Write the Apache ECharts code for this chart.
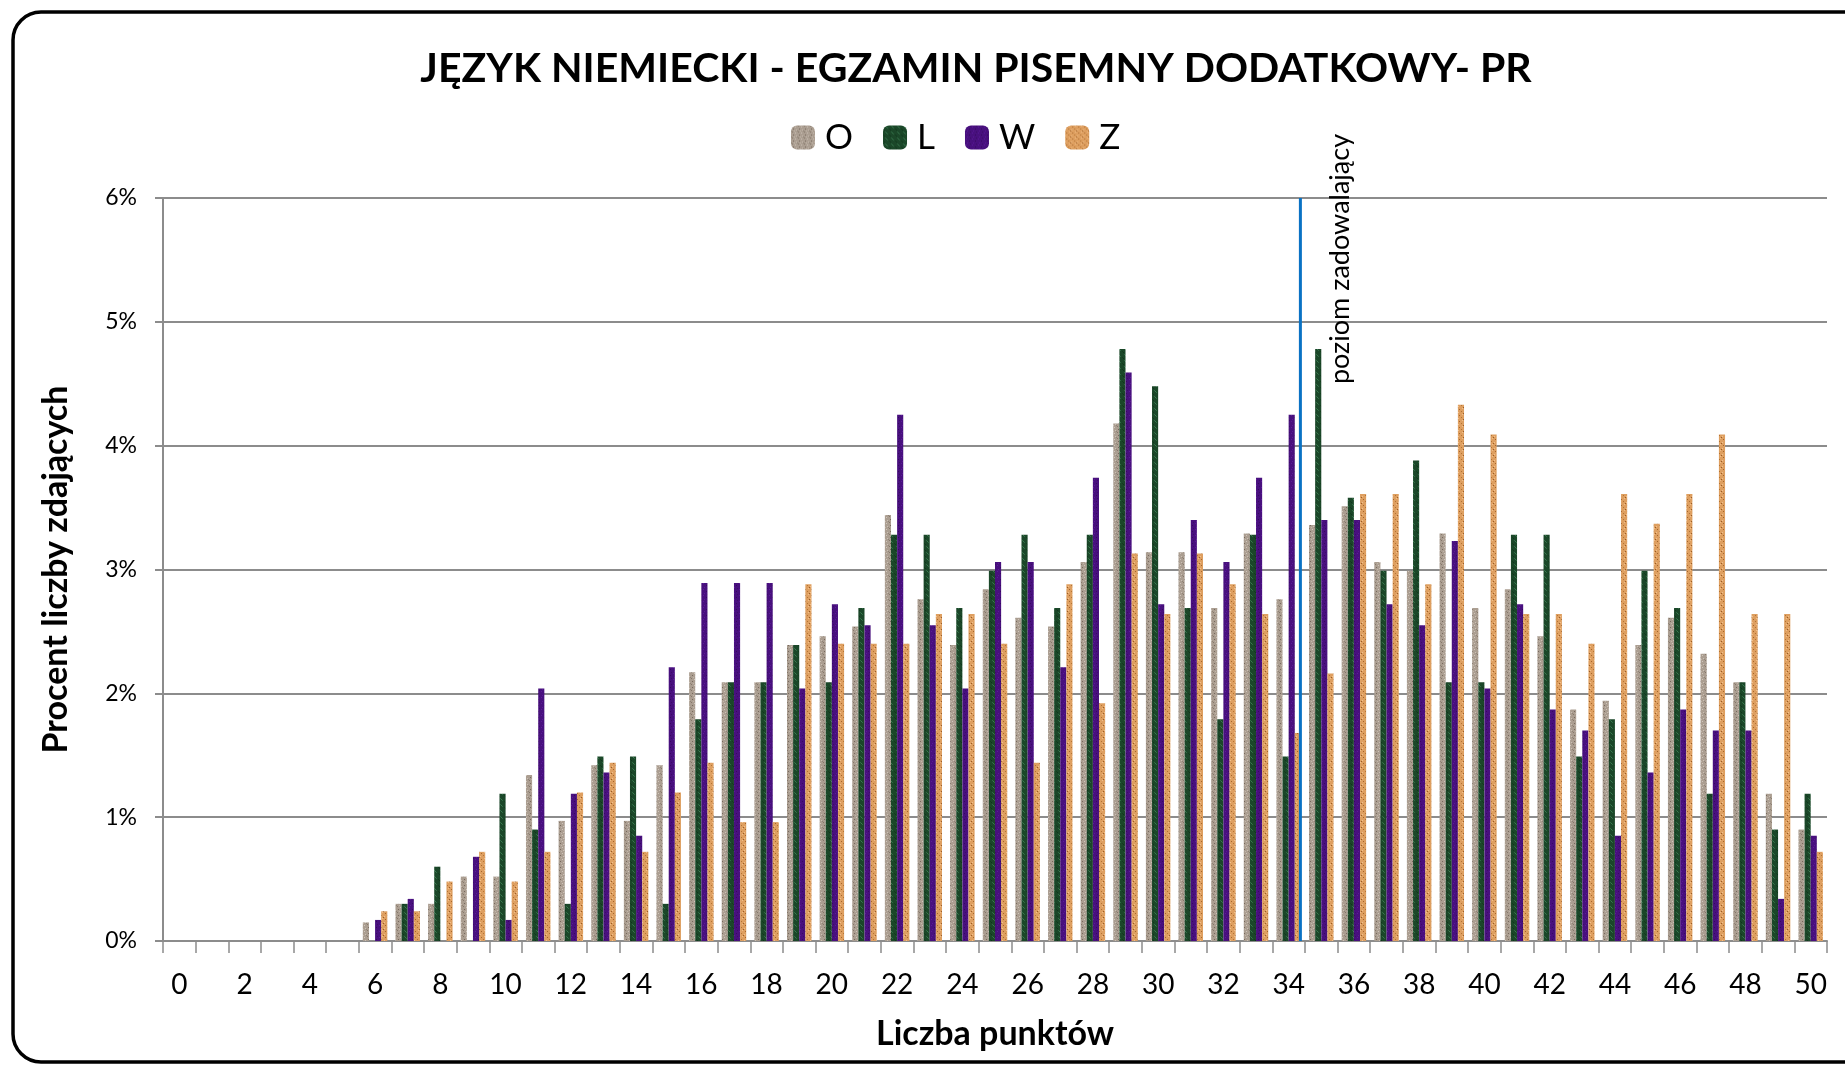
<!DOCTYPE html>
<html>
<head>
<meta charset="utf-8">
<title>Język niemiecki - egzamin pisemny dodatkowy - PR</title>
<script src="https://cdn.jsdelivr.net/npm/echarts@6/dist/echarts.min.js"></script>
<style>
  html, body { margin: 0; padding: 0; background: #fff; }
  #main { width: 1845px; height: 1066px; }
</style>
</head>
<body>
<div id="main"></div>
<script>
// liczba punktow (kategorie osi X)
var punkty = ['0','1','2','3','4','5','6','7','8','9','10','11','12','13','14','15','16','17','18','19','20',
  '21','22','23','24','25','26','27','28','29','30','31','32','33','34','35','36','37','38','39','40',
  '41','42','43','44','45','46','47','48','49','50'];

var nazwySerii = ['O', 'L', 'W', 'Z'];

// procent liczby zdajacych
var wynikO = [0,0,0,0,0,0, 0.15,0.30,0.30,0.52,0.52,1.34,0.97,1.42,0.97,1.42,2.17,2.09,2.09,2.39,2.46,
  2.54,3.44,2.76,2.39,2.84,2.61,2.54,3.06,4.18,3.14,3.14,2.69,3.29,2.76,3.36,3.51,3.06,2.99,3.29,2.69,
  2.84,2.46,1.87,1.94,2.39,2.61,2.32,2.09,1.19,0.90];
var wynikL = [0,0,0,0,0,0, 0,0.30,0.60,0,1.19,0.90,0.30,1.49,1.49,0.30,1.79,2.09,2.09,2.39,2.09,
  2.69,3.28,3.28,2.69,2.99,3.28,2.69,3.28,4.78,4.48,2.69,1.79,3.28,1.49,4.78,3.58,2.99,3.88,2.09,2.09,
  3.28,3.28,1.49,1.79,2.99,2.69,1.19,2.09,0.90,1.19];
var wynikW = [0,0,0,0,0,0, 0.17,0.34,0,0.68,0.17,2.04,1.19,1.36,0.85,2.21,2.89,2.89,2.89,2.04,2.72,
  2.55,4.25,2.55,2.04,3.06,3.06,2.21,3.74,4.59,2.72,3.40,3.06,3.74,4.25,3.40,3.40,2.72,2.55,3.23,2.04,
  2.72,1.87,1.70,0.85,1.36,1.87,1.70,1.70,0.34,0.85];
var wynikZ = [0,0,0,0,0,0, 0.24,0.24,0.48,0.72,0.48,0.72,1.20,1.44,0.72,1.20,1.44,0.96,0.96,2.88,2.40,
  2.40,2.40,2.64,2.64,2.40,1.44,2.88,1.92,3.13,2.64,3.13,2.88,2.64,1.68,2.16,3.61,3.61,2.88,4.33,4.09,
  2.64,2.64,2.40,3.61,3.37,3.61,4.09,2.64,2.64,0.72];

// poziom zadowalajacy - polozenie linii na osi punktow
var progZadowalajacy = 34.36;

var czcionka = 'Lato, "Noto Sans", sans-serif';

// faktury slupkow (jak w Excelu)
function faktura(baza, kropki) {
  var c = document.createElement('canvas');
  c.width = 6; c.height = 6;
  var g = c.getContext('2d');
  g.fillStyle = baza;
  g.fillRect(0, 0, 6, 6);
  kropki.forEach(function (k) {
    g.fillStyle = k[2];
    g.fillRect(k[0], k[1], 1, 1);
  });
  return { image: c, repeat: 'repeat' };
}
var kolory = [
  faktura('#ab9e91', [[1,0,'#85776a'],[4,1,'#d0c6bc'],[2,3,'#76685c'],[5,4,'#cbc0b5'],[0,5,'#908477'],[3,5,'#c2b6aa']]),
  faktura('#1b4729', [[2,0,'#2f6b43'],[3,1,'#3b7b51'],[4,2,'#2f6b43'],[1,4,'#0f361c'],[0,3,'#133d1d']]),
  faktura('#48107e', [[1,1,'#5c1a9a'],[4,3,'#37095e'],[2,5,'#5a1896'],[5,0,'#3c0b68']]),
  faktura('#de9f60', [[1,1,'#a5652b'],[4,0,'#f1bf8a'],[3,3,'#b37334'],[0,4,'#f2c18d'],[5,5,'#995b25']])
];

var dane = [wynikO, wynikL, wynikW, wynikZ];
var serie = nazwySerii.map(function (n, i) {
  return {
    name: n,
    type: 'bar',
    data: dane[i],
    barGap: '0%',
    barCategoryGap: '25%',
    itemStyle: { color: kolory[i] },
    silent: true
  };
});
serie.push({
  name: 'prog',
  type: 'line',
  xAxisIndex: 1,
  data: [[progZadowalajacy, 0], [progZadowalajacy, 6]],
  symbol: 'none',
  lineStyle: { color: '#0a72c4', width: 3 },
  silent: true,
  z: 5
});

var myChart = echarts.init(document.getElementById('main'));
var option = {
  animation: false,
  backgroundColor: '#fff',
  title: {
    text: 'JĘZYK NIEMIECKI - EGZAMIN PISEMNY DODATKOWY- PR',
    left: 971,
    textAlign: 'center',
    top: 43,
    textStyle: { fontFamily: czcionka, fontSize: 41, fontWeight: 'bold', color: '#000' }
  },
  legend: {
    data: nazwySerii,
    left: 786,
    top: 115,
    itemWidth: 24,
    itemHeight: 24,
    itemGap: 30,
    textStyle: { fontFamily: czcionka, fontSize: 35, color: '#000', padding: [0, 0, 0, 5] }
  },
  grid: { left: 163, top: 198, width: 1664, height: 743 },
  xAxis: [{
    type: 'category',
    data: punkty,
    name: 'Liczba punktów',
    nameLocation: 'middle',
    nameGap: 76,
    nameTextStyle: { fontFamily: czcionka, fontSize: 34, fontWeight: 'bold', color: '#000' },
    axisLine: { lineStyle: { color: '#8c8c8c', width: 2 } },
    axisTick: { show: true, interval: 0, length: 12, lineStyle: { color: '#8c8c8c', width: 1.5 } },
    axisLabel: { interval: 1, margin: 30, fontFamily: czcionka, fontSize: 28, color: '#000' },
    splitLine: { show: false }
  }, {
    type: 'value',
    min: -0.5,
    max: 50.5,
    show: false
  }],
  yAxis: {
    type: 'value',
    min: 0,
    max: 6,
    interval: 1,
    name: 'Procent liczby zdających',
    nameLocation: 'middle',
    nameGap: 90,
    nameTextStyle: { fontFamily: czcionka, fontSize: 34, fontWeight: 'bold', color: '#000' },
    axisLine: { show: true, onZero: false, lineStyle: { color: '#8c8c8c', width: 2 } },
    axisTick: { show: true, length: 8, lineStyle: { color: '#8c8c8c', width: 2 } },
    axisLabel: { margin: 26, fontFamily: czcionka, fontSize: 23, color: '#000', formatter: '{value}%' },
    splitLine: { lineStyle: { color: '#8c8c8c', width: 2 } }
  },
  series: serie
};
myChart.setOption(option);

// ramka wykresu i podpis linii progu
var gora = myChart.convertToPixel({ xAxisIndex: 1, yAxisIndex: 0 }, [progZadowalajacy, 6]);
myChart.setOption({
  graphic: [{
    type: 'rect',
    shape: { x: 13, y: 12, width: 1900, height: 1050, r: 28 },
    style: { fill: 'none', stroke: '#000', lineWidth: 3.5 },
    silent: true,
    z: -1
  }, {
    type: 'text',
    x: gora[0] + 40,
    y: gora[1] + 61,
    rotation: Math.PI / 2,
    style: {
      text: 'poziom zadowalający',
      font: '27px ' + czcionka,
      fill: '#000',
      textAlign: 'center',
      textVerticalAlign: 'middle',
      align: 'center',
      verticalAlign: 'middle'
    },
    silent: true
  }]
});
</script>
</body>
</html>
